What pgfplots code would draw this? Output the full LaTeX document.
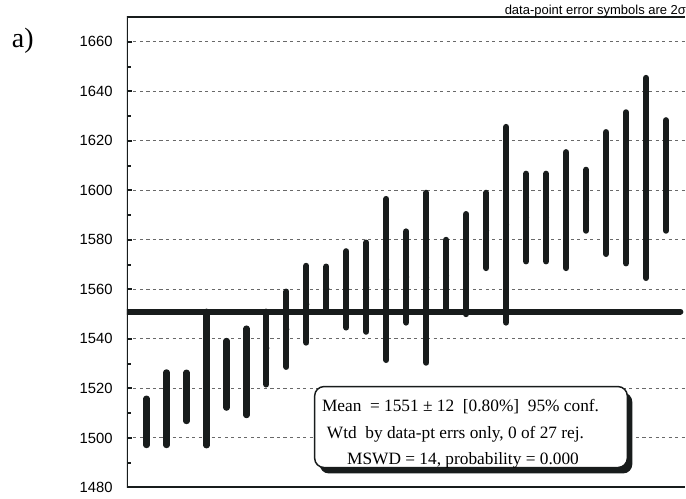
\documentclass[border=0pt]{standalone}
\usepackage{pgfplots}
\pgfplotsset{compat=1.18}
\usepackage{pgfplotstable}
\usepackage{fontspec}
\setmainfont{Liberation Serif}
\newfontfamily\arial{Liberation Sans}

\definecolor{barc}{RGB}{24,28,28}
\definecolor{gridc}{RGB}{105,105,105}

% analysis index, centre value, 2-sigma half-width
\pgfplotstableread{
i  c       e
1  1506.5  9.4
2  1511.8  14.7
3  1516.6  9.8
4  1524.0  27.0
5  1525.7  13.5
6  1526.7  17.5
7  1536.3  14.7
8  1543.9  15.2
9  1554.0  15.5
10 1560.3  8.9
11 1560.0  15.4
12 1560.9  18.0
13 1564.0  32.5
14 1565.0  18.4
15 1564.7  34.3
16 1565.5  14.5
17 1570.2  20.2
18 1583.8  15.2
19 1586.1  39.5
20 1589.0  17.7
21 1589.0  17.7
22 1592.0  23.4
23 1596.0  12.3
24 1598.9  24.6
25 1601.0  30.5
26 1605.0  40.4
27 1606.0  22.3
}\agedata

\begin{document}
\begin{tikzpicture}
\begin{scope}[x=0.75pt,y=-0.75pt]
\useasboundingbox (0,0) rectangle (686,499);
\end{scope}

\begin{axis}[
  at={(95.25pt,-366pt)}, anchor=south west,
  scale only axis,
  width=419.25pt, height=353.25pt,
  xmin=0.015, xmax=27.965,
  ymin=1480, ymax=1670,
  xtick=\empty,
  ytick={1480,1500,...,1660},
  minor y tick num=1,
  ytick pos=left,
  tick align=inside,
  major tick length=3.75pt,
  minor tick length=3.2pt,
  every tick/.style={barc, line width=1.5pt},
  yticklabel style={font=\arial\fontsize{11.1pt}{13pt}\selectfont, inner sep=0pt, xshift=-10.5pt},
  /pgf/number format/assume math mode=true,
  /pgf/number format/1000 sep={},
  ymajorgrids,
  grid style={gridc, line width=0.75pt, dash pattern=on 2.3pt off 2.6pt},
  axis line style={draw=none},
]
% weighted mean
\addplot[barc, line width=4.5pt, line cap=round] coordinates {(0.015,1551) (27.72,1551)};
% 2-sigma error symbols
\addplot[barc, only marks, mark=none,
  error bars/.cd, y dir=both, y explicit, error mark=none,
  error bar style={barc, line width=4.6pt, line cap=round}]
  table[x=i, y=c, y error=e] {\agedata};
% frame: left, bottom and top
\draw[barc, line width=2pt] (rel axis cs:0,-0.005) -- (rel axis cs:0,1.003);
\draw[barc, line width=2.2pt] (rel axis cs:0,0) -- (rel axis cs:1,0);
\draw[barc, line width=1.6pt] (rel axis cs:0,1) -- (rel axis cs:1,1);
\end{axis}

\begin{scope}[x=0.75pt,y=-0.75pt]
% result box with drop shadow
\fill[barc, rounded corners=7pt] (320,393) rectangle (633,474);
\filldraw[fill=white, draw=barc, line width=1.1pt, rounded corners=7pt] (315,387) rectangle (628,468);
\node[anchor=base, inner sep=0pt, font=\fontsize{13pt}{15pt}\selectfont] at (461,412) {Mean\ \ = 1551 ± 12\ \ [0.80\%]\ \ 95\% conf.};
\node[anchor=base, inner sep=0pt, font=\fontsize{13pt}{15pt}\selectfont] at (456,438.5) {Wtd\ \ by data-pt errs only, 0 of 27 rej.};
\node[anchor=base, inner sep=0pt, font=\fontsize{13pt}{15pt}\selectfont] at (463.5,465) {MSWD = 14, probability = 0.000};
% panel letter and note
\node[anchor=base west, inner sep=0pt, font=\fontsize{21pt}{24pt}\selectfont] at (11.7,47.3) {a)};
\node[anchor=base east, inner sep=0pt, font=\arial\fontsize{9.75pt}{11pt}\selectfont] at (687,14.5) {data-point error symbols are 2σ};
\end{scope}
\end{tikzpicture}
\end{document}
